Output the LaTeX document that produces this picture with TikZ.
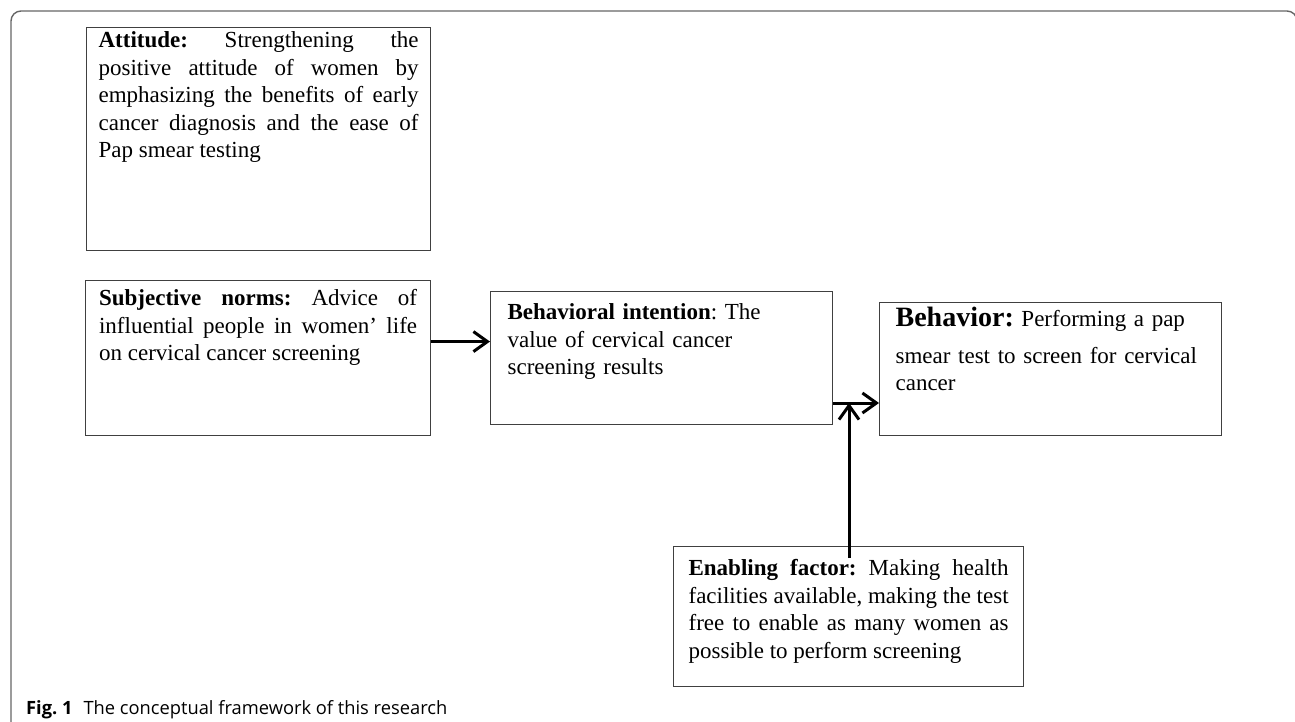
\documentclass[tikz,border=0pt]{standalone}
\usepackage{fontspec}
\setmainfont{Liberation Serif}
\newfontfamily\capfont{Open Sans}
\usetikzlibrary{arrows.meta}

\begin{document}
\frenchspacing
\begin{tikzpicture}[
    x=1pt, y=-1pt,
    frame/.style={draw=black!60, line width=1.4pt, rounded corners=10pt},
    factor/.style={rectangle, draw=black!75, line width=1.2pt, anchor=north west,
        inner ysep=0pt, align=justify, font=\fontsize{23}{27.6}\selectfont},
    arrowstyle/.style={draw, line width=3pt,
        -{Straight Barb[length=14pt, width=20pt]}},
    caption/.style={anchor=base west, inner sep=0pt,
        font=\capfont\fontsize{18.3}{22}\selectfont}
]
\useasboundingbox (0,0) rectangle (1295,722);
\draw[frame] (11,722) -- (11,11) -- (1297,11) -- (1297,60);

\node (Attitude) [factor, text width=320pt, inner xsep=12pt,
    text height=20pt, text depth=203pt] at (86,27)
  {\textbf{Attitude:} Strengthening the\linebreak
   positive attitude of women by\linebreak
   emphasizing the benefits of early\linebreak
   cancer diagnosis and the ease of\linebreak
   Pap smear testing};
\node (Subjective) [factor, text width=318pt, inner xsep=13.5pt,
    text height=25pt, text depth=130pt] at (85,280)
  {\textbf{Subjective norms:} Advice of\linebreak
   influential people in women’ life\linebreak
   on cervical cancer screening};
\node (Intention) [factor, align=left, text width=308pt, inner xsep=17pt,
    text height=28pt, text depth=105pt] at (490,291)
  {\textbf{Behavioral intention}: The\\
   value of cervical cancer\\
   screening results};
\node (Behavior) [factor, align=left, text width=310pt, inner xsep=16pt,
    text height=24pt, text depth=109pt] at (879,302)
  {{\fontsize{28}{33}\selectfont\textbf{Behavior:}} Performing a pap\\[9pt]
   smear test to screen for cervical\\
   cancer};
\node (Enabling) [factor, text width=320pt, inner xsep=15pt,
    text height=29pt, text depth=111pt] at (673,546)
  {\textbf{Enabling factor:} Making health\linebreak
   facilities available, making the test\linebreak
   free to enable as many women as\linebreak
   possible to perform screening};

\coordinate (junction) at (849,403);
\draw[arrowstyle] ([yshift=16.5pt]Subjective.east) -- ([yshift=16.5pt]Intention.west);
\draw[arrowstyle] (Intention.east |- junction) -- (Behavior.west |- junction);
\draw[arrowstyle] ([yshift=-12pt]Enabling.north -| junction) -- (junction);

\node (Caption) [caption] at (26,714)
  {\textbf{Fig. 1}\hspace{0.6em}The conceptual framework of this research};
\end{tikzpicture}
\end{document}
